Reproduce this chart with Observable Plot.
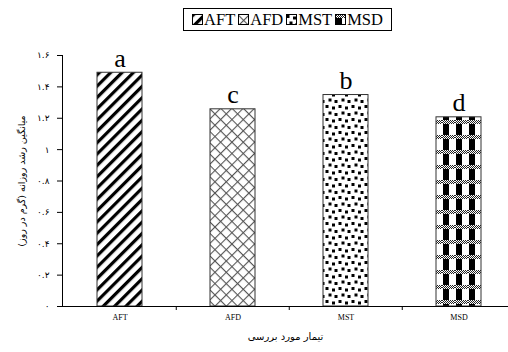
<!DOCTYPE html>
<html>
<head>
<meta charset="utf-8">
<script src="https://cdn.jsdelivr.net/npm/d3@7"></script>
<script src="https://cdn.jsdelivr.net/npm/@observablehq/plot@0.6"></script>
<style>
  html, body { margin: 0; padding: 0; background: white; }
  #wrap { position: relative; width: 508px; height: 352px; }
  #legend {
    position: absolute; left: 183px; top: 8px; width: 207px; height: 21px;
    border: 1px solid #000; display: flex; align-items: center; justify-content: center;
    font-family: "Liberation Serif", serif; font-size: 16.5px; color: #000; gap: 3px;
  }
  #legend .item { display: flex; align-items: center; gap: 1px; }
  #legend svg { display: block; }
</style>
</head>
<body>
<svg width="0" height="0" style="position:absolute">
  <defs id="defs"></defs>
</svg>
<div id="wrap"><div id="legend"></div></div>
<script>
const cats = ["AFT", "AFD", "MST", "MSD"];
const values = [1.49, 1.257, 1.348, 1.206];
const letters = ["a", "c", "b", "d"];
const yTicks = [0, 0.2, 0.4, 0.6, 0.8, 1, 1.2, 1.4, 1.6];
const yTitle = "میانگین رشد روزانه (گرم در روز)";
const xTitle = "تیمار مورد بررسی";

const data = cats.map((c, i) => ({cat: c, value: values[i], letter: letters[i]}));

// patterns
let msdBand = "";
for (let i = 0; i < 13; i++) for (let j = 0; j < 4; j++) if ((i + j) % 2 === 0) msdBand += `<rect x="${i}" y="${j}" width="1" height="1" fill="#222"/>`;
document.getElementById("defs").innerHTML = `
<pattern id="pAFT" width="8" height="8" patternUnits="userSpaceOnUse" patternTransform="rotate(45)">
  <rect width="8" height="8" fill="#fff"/><rect x="0" width="3.2" height="8" fill="#000"/>
</pattern>
<pattern id="pAFD" width="8" height="8" patternUnits="userSpaceOnUse" patternTransform="rotate(45)">
  <rect width="8" height="8" fill="#fff"/><rect x="0" width="1.1" height="8" fill="#555"/><rect y="0" width="8" height="1.1" fill="#555"/>
</pattern>
<pattern id="pMST" width="13" height="13" patternUnits="userSpaceOnUse">
  <rect width="13" height="13" fill="#fff"/>
  <rect x="0.5" y="1" width="3" height="3" fill="#000"/>
  <rect x="7" y="2.5" width="3" height="3" fill="#000"/>
  <rect x="3.5" y="7.5" width="3" height="3" fill="#000"/>
  <rect x="9.5" y="9" width="3" height="3" fill="#000"/>
</pattern>
<pattern id="pMSD" width="13" height="15" patternUnits="userSpaceOnUse">
  <rect width="13" height="15" fill="#fff"/>
  <rect x="1" y="4" width="6" height="11" fill="#000"/>
  ${msdBand}
</pattern>`;

const toFa = s => String(s).replace(/[0-9]/g, d => "۰۱۲۳۴۵۶۷۸۹"[d]);
const fa = v => toFa(v === 0 ? "0" : d3.format("~g")(v));

const step = 454 / 4;

const chart = Plot.plot({
  width: 508,
  height: 352,
  marginLeft: 62,
  marginRight: 0,
  marginTop: 55,
  marginBottom: 46,
  style: {background: "transparent", overflow: "visible"},
  x: {domain: cats, range: [62, 516], paddingInner: 0.6, paddingOuter: 0.3, axis: null},
  y: {domain: [0, 1.6], axis: null},
  marks: [
    Plot.barY(data, {x: "cat", y: "value", fill: d => `url(#p${d.cat})`, stroke: "#333", strokeWidth: 1}),
    Plot.text(data, {x: "cat", y: "value", text: "letter", dy: -6, lineAnchor: "bottom", fontSize: 26, fontFamily: "Liberation Serif", fill: "#000"}),
    Plot.axisY({ticks: yTicks, tickSize: 5, tickPadding: 8, tickFormat: fa, fontSize: 9, fontFamily: "DejaVu Sans", label: null}),
    Plot.axisX({tickSize: 0, tickPadding: 8, fontSize: 8, fontFamily: "Liberation Serif", label: null}),
    Plot.axisX({ticks: cats.slice(1), tickSize: 4, tickFormat: () => "", dx: -step / 2, label: null}),
    Plot.ruleY([0], {stroke: "#000"}),
    Plot.frame({anchor: "left", stroke: "#000"}),
    Plot.text([yTitle], {frameAnchor: "left", rotate: -90, dx: -41, textAnchor: "middle", lineAnchor: "middle", fontSize: 9.5, fontFamily: "DejaVu Sans", fill: "#000"}),
    Plot.text([xTitle], {frameAnchor: "bottom", dy: 30, textAnchor: "middle", lineAnchor: "middle", fontSize: 10, fontFamily: "DejaVu Sans", fill: "#000"})
  ]
});
document.getElementById("wrap").appendChild(chart);

const legend = document.getElementById("legend");
cats.forEach(c => {
  const item = document.createElement("div");
  item.className = "item";
  item.innerHTML = `<svg width="11" height="11"><rect x="0.5" y="0.5" width="10" height="10" fill="url(#p${c})" stroke="#000"/></svg><span>${c}</span>`;
  legend.appendChild(item);
});
</script>
</body>
</html>
